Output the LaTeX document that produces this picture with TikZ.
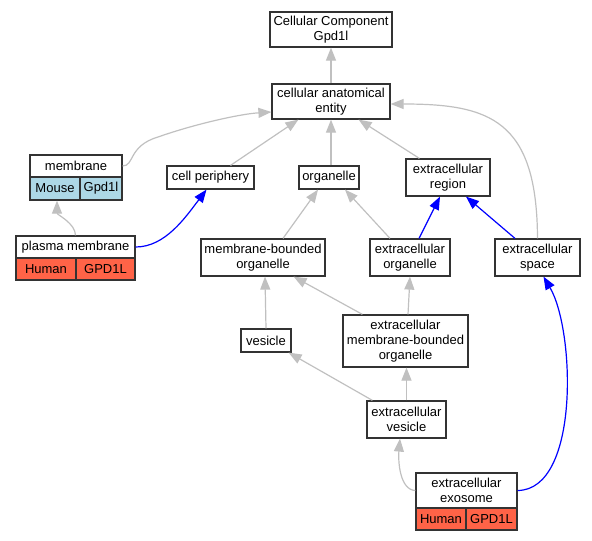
\documentclass[tikz,border=0pt]{standalone}
\usepackage{fontspec}
\setmainfont{Liberation Sans}
\usetikzlibrary{arrows.meta,calc}
\definecolor{edgegray}{RGB}{192,192,192}
\definecolor{mouseblue}{RGB}{173,216,230}
\definecolor{humanred}{RGB}{255,99,71}
\begin{document}
\begin{tikzpicture}[x=1pt, y=-1pt,
    >={Triangle[length=13pt,width=10pt]},
    term/.style={draw=black!80, line width=1.2pt, fill=white, align=center,
        inner sep=0pt, font=\fontsize{13}{15}\selectfont},
    isa/.style={draw=edgegray, line width=1.2pt, ->},
    hit/.style={draw=blue, line width=1.2pt, ->}]
    \useasboundingbox (0,0) rectangle (592,541);
    % terms
    \node[term, minimum width=122, minimum height=35] (cc) at (331,29.5) {Cellular Component\\Gpd1l};
    \node[term, minimum width=118, minimum height=35] (cae) at (331,101.5) {cellular anatomical\\entity};
    \node[term, minimum width=92, minimum height=22] (memtop) at (76,166) {membrane};
    \node[term, fill=mouseblue, minimum width=50, minimum height=23] (memL) at (55,188.5) {Mouse};
    \node[term, fill=mouseblue, minimum width=42, minimum height=23] (memR) at (101,188.5) {Gpd1l};
    \node[term, minimum width=87, minimum height=23] (cellp) at (210.5,177.5) {cell periphery};
    \node[term, minimum width=60, minimum height=23] (org) at (329,177.5) {organelle};
    \node[term, minimum width=84, minimum height=37] (exreg) at (448,177.5) {extracellular\\region};
    \node[term, minimum width=119, minimum height=22] (pmtop) at (75.5,247) {plasma membrane};
    \node[term, fill=humanred, minimum width=60, minimum height=22] (pmL) at (46,269) {Human};
    \node[term, fill=humanred, minimum width=59, minimum height=22] (pmR) at (105.5,269) {GPD1L};
    \node[term, minimum width=124, minimum height=37] (mbo) at (263,257.5) {membrane-bounded\\organelle};
    \node[term, minimum width=80, minimum height=37] (eo) at (410,257.5) {extracellular\\organelle};
    \node[term, minimum width=85, minimum height=37] (es) at (537.5,257.5) {extracellular\\space};
    \node[term, minimum width=50, minimum height=23] (ves) at (266,340.5) {vesicle};
    \node[term, minimum width=125, minimum height=52] (embo) at (405.5,341) {extracellular\\membrane-bounded\\organelle};
    \node[term, minimum width=79, minimum height=37] (ev) at (406.5,419.5) {extracellular\\vesicle};
    \node[term, minimum width=101, minimum height=35] (exotop) at (466.5,490.5) {extracellular\\exosome};
    \node[term, fill=humanred, minimum width=50, minimum height=22] (exoL) at (441,519) {Human};
    \node[term, fill=humanred, minimum width=51, minimum height=22] (exoR) at (491.5,519) {GPD1L};
    % is_a edges
    \draw[isa] (cae.north) -- (cc.south);
    \draw[isa] (memtop.east) .. controls +(12,0) and (128,146) .. (158,137)
        .. controls (195,124) and (240,114) .. ($(cae.west)+(0,10.5)$);
    \draw[isa] ($(cellp.north)+(20,0)$) -- ($(cae.south west)+(27,0)$);
    \draw[isa] ($(org.north)+(2,0)$) -- (cae.south);
    \draw[isa] ($(exreg.north west)+(14,0)$) -- ($(cae.south east)+(-32,0)$);
    \draw[isa] (es.north) .. controls (537,120) and (490,104) .. ($(cae.east)+(0,2.5)$);
    \draw[isa] (pmtop.north) .. controls +(0,-12) and +(0,14) .. ($(memL.south)+(2,0)$);
    \draw[isa] ($(mbo.north)+(20,0)$) -- ($(org.south)+(-11,0)$);
    \draw[isa] ($(eo.north)+(-20,0)$) -- ($(org.south)+(16,0)$);
    \draw[isa] (ves.north) -- ($(mbo.south)+(2,0)$);
    \draw[isa] ($(embo.north west)+(20,0)$) -- ($(mbo.south east)+(-32,0)$);
    \draw[isa] ($(embo.north)+(2.5,0)$) -- (eo.south);
    \draw[isa] ($(ev.north west)+(6,0)$) -- ($(ves.south east)+(-3,0)$);
    \draw[isa] (ev.north) -- ($(embo.south)+(1,0)$);
    \draw[isa] (exotop.west) .. controls (400,490) and (398,462) .. ($(ev.south)+(-6.5,0)$);
    % annotated edges
    \draw[hit] (pmtop.east) .. controls (165,247) and (185,218) .. ($(cellp.south)+(-4,0)$);
    \draw[hit] ($(eo.north)+(9,0)$) -- ($(exreg.south)+(-8,0)$);
    \draw[hit] ($(es.north)+(-22.5,0)$) -- ($(exreg.south)+(18,0)$);
    \draw[hit] (exotop.east) .. controls (580,490) and (575,330) .. ($(es.south)+(6,0)$);
\end{tikzpicture}
\end{document}
